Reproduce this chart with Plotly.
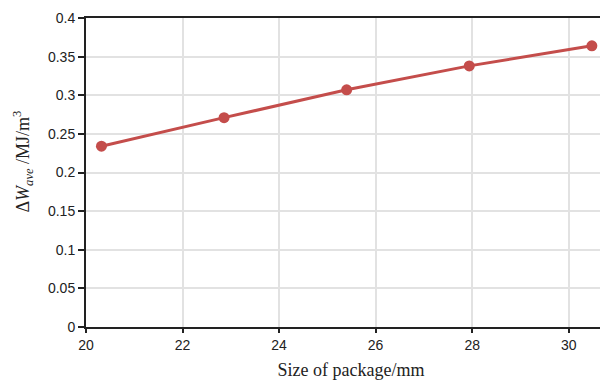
import plotly.graph_objects as go

size_mm = [20.32, 22.86, 25.40, 27.94, 30.48]
delta_w = [0.234, 0.271, 0.307, 0.338, 0.364]
x_ticks = [20, 22, 24, 26, 28, 30]
y_ticks = [0, 0.05, 0.1, 0.15, 0.2, 0.25, 0.3, 0.35, 0.4]
y_labels = ["0", "0.05", "0.1", "0.15", "0.2", "0.25", "0.3", "0.35", "0.4"]

fig = go.Figure()
fig.add_trace(go.Scatter(
    x=size_mm, y=delta_w, mode="lines+markers",
    line=dict(color="#c44d4b", width=3),
    marker=dict(color="#c44d4b", size=11),
    showlegend=False, cliponaxis=False,
))

serif = "Liberation Serif, Times New Roman, serif"
fig.update_layout(
    width=608, height=381,
    margin=dict(l=78, r=0, t=10, b=62, autoexpand=False),
    paper_bgcolor="white", plot_bgcolor="white",
    font=dict(family="Liberation Sans, Arial, sans-serif", size=14, color="#222"),
)
fig.update_xaxes(
    range=[20, 30.98], tickvals=x_ticks, ticktext=[str(v) for v in x_ticks],
    showgrid=True, gridcolor="#e2e2e2", gridwidth=2,
    showline=True, linecolor="#222", linewidth=2, mirror=True,
    ticks="outside", ticklen=4, tickcolor="#222", tickwidth=1.5,
    zeroline=False, automargin=False,
    title=dict(text="Size of package/mm", font=dict(family=serif, size=18, color="#222"), standoff=12),
)
fig.update_yaxes(
    range=[0, 0.4], tickvals=y_ticks, ticktext=y_labels,
    showgrid=True, gridcolor="#e2e2e2", gridwidth=2,
    showline=True, linecolor="#222", linewidth=2,
    ticks="outside", ticklen=6, tickcolor="#222", tickwidth=1.5,
    zeroline=False, automargin=False,
)
fig.add_annotation(
    text="Δ<i>W</i><sub><i>ave</i></sub> /MJ/m<sup>3</sup>",
    xref="paper", yref="paper", x=-0.12, y=0.537,
    xanchor="center", yanchor="middle", textangle=-90, showarrow=False,
    font=dict(family=serif, size=18, color="#222"),
)

fig.write_html("out.html")
